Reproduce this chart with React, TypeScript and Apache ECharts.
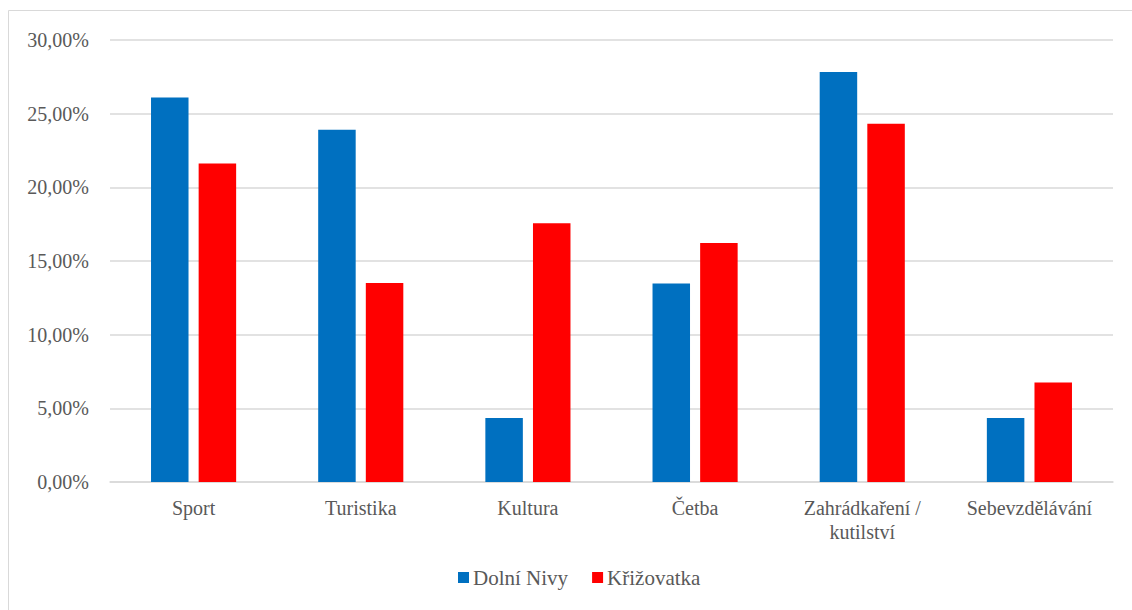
import React, { useEffect, useRef } from "react";
import * as echarts from "echarts";

const categories = ["Sport", "Turistika", "Kultura", "Četba", "Zahrádkaření /\nkutilství", "Sebevzdělávání"];
const dolniNivy = [26.09, 23.91, 4.35, 13.48, 27.83, 4.35];
const krizovatka = [21.62, 13.51, 17.57, 16.22, 24.32, 6.76];
const seriesNames = ["Dolní Nivy", "Křižovatka"];
const yTicks = { min: 0, max: 30, interval: 5 };

const FONT = "Liberation Serif, Times New Roman, serif";
const TEXT = "#595959";

export default function App() {
  const ref = useRef<HTMLDivElement>(null);
  useEffect(() => {
    const chart = echarts.init(ref.current!, null, { renderer: "svg" });
    chart.setOption({
      animation: false,
      backgroundColor: "#ffffff",
      textStyle: { fontFamily: FONT },
      graphic: [
        {
          type: "rect",
          shape: { x: 8.5, y: 10.5, width: 1140, height: 620 },
          style: { fill: "none", stroke: "#d9d9d9", lineWidth: 1 },
          silent: true,
        },
      ],
      grid: { left: 110, right: 19, top: 40, bottom: 128, containLabel: false },
      legend: {
        data: seriesNames,
        top: 567,
        left: 458,
        padding: 0,
        icon: "rect",
        itemWidth: 11,
        itemHeight: 11,
        itemGap: 24,
        textStyle: { fontFamily: FONT, fontSize: 21, color: TEXT, padding: [0, 0, 0, -1] },
      },
      xAxis: {
        type: "category",
        data: categories,
        axisLine: { show: true, lineStyle: { color: "#d9d9d9", width: 1.5 } },
        axisTick: { show: false },
        axisLabel: {
          fontFamily: FONT,
          fontSize: 20,
          color: TEXT,
          margin: 14,
          lineHeight: 24,
          interval: 0,
        },
      },
      yAxis: {
        type: "value",
        min: yTicks.min,
        max: yTicks.max,
        interval: yTicks.interval,
        axisLine: { show: false },
        axisTick: { show: false },
        splitLine: { lineStyle: { color: "#d9d9d9", width: 1.5 } },
        axisLabel: {
          fontFamily: FONT,
          fontSize: 20,
          color: TEXT,
          margin: 21,
          formatter: (v: number) => v.toFixed(2).replace(".", ",") + "%",
        },
      },
      series: [
        {
          name: seriesNames[0],
          type: "bar",
          data: dolniNivy,
          barWidth: 37.5,
          barGap: "27%",
          itemStyle: { color: "#0070C0" },
        },
        {
          name: seriesNames[1],
          type: "bar",
          data: krizovatka,
          barWidth: 37.5,
          barGap: "27%",
          itemStyle: { color: "#FF0000" },
        },
      ],
    });
    return () => chart.dispose();
  }, []);
  return (
    <div
      ref={ref}
      style={{ position: "absolute", left: 0, top: 0, width: 1132, height: 610 }}
    />
  );
}
